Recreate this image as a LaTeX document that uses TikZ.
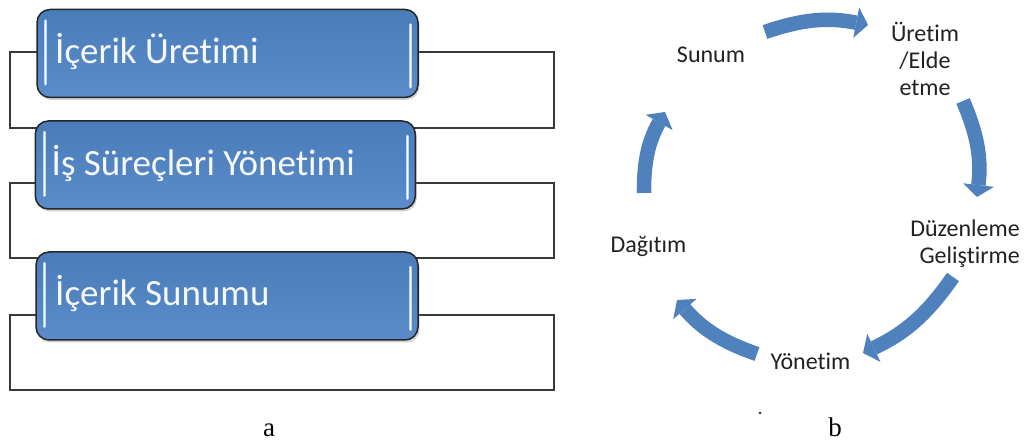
\documentclass[tikz,border=0pt]{standalone}
\usepackage{fontspec}
\setmainfont{Liberation Serif}
\newfontfamily\carlito[Ligatures=NoCommon]{Carlito}
\usetikzlibrary{arrows.meta,shadows,calc}
\definecolor{boxtop}{HTML}{4A7CBA}
\definecolor{boxbot}{HTML}{5B8CC9}
\definecolor{edgegray}{HTML}{262626}
\definecolor{framegray}{HTML}{3A3A3A}
\definecolor{glint}{HTML}{B5D8FA}
\definecolor{arrowblue}{HTML}{4F81BD}
\definecolor{labelgray}{HTML}{222222}
\definecolor{boxtext}{HTML}{F6F9FF}

% light vertical highlights inside a topic box
\newcommand\glints[1]{%
  \draw[glintbar] ($(#1.north west)+(9.5,-12)$) -- ($(#1.south west)+(9.5,14)$);
  \draw[glintcore] ($(#1.north west)+(9.5,-12)$) -- ($(#1.south west)+(9.5,14)$);
  \draw[glintbar] ($(#1.north east)+(-8.5,-16)$) -- ($(#1.south east)+(-8.5,11)$);
  \draw[glintcore] ($(#1.north east)+(-8.5,-16)$) -- ($(#1.south east)+(-8.5,11)$);
}

\begin{document}
\begin{tikzpicture}[x=1pt,y=1pt,
  frame/.style={draw=framegray, line width=1.3pt, fill=white},
  topicbox/.style={rounded corners=13pt, draw=edgegray, line width=1.5pt,
    top color=boxtop, bottom color=boxbot,
    drop shadow={opacity=0.35,shadow xshift=1.5pt,shadow yshift=-2.5pt},
    minimum height=88pt, inner sep=0pt},
  topictext/.style={font=\carlito\fontsize{37}{40}\selectfont, text=boxtext,
    anchor=base west, inner sep=0pt},
  glintbar/.style={line width=3pt, draw=glint, line cap=round},
  glintcore/.style={line width=0.9pt, draw=white, line cap=round},
  steplabel/.style={font=\carlito\fontsize{24}{27}\selectfont, text=labelgray, inner sep=0pt},
  cyclearrow/.style={draw=arrowblue, line width=14.5pt,
    -{Triangle[length=12pt,width=31pt,line width=0pt]}},
  caption/.style={font=\fontsize{27}{30}\selectfont, inner sep=0pt, anchor=base}
]
\fill[white] (0,0) rectangle (1026,443);
\useasboundingbox (0,0) rectangle (1026,443);

% (a) stacked topics with their frames
\draw[frame] (10,315) rectangle (554,391);
\draw[frame] (10,185) rectangle (554,260);
\draw[frame] (10,53) rectangle (554,128);

\node[topicbox, minimum width=381pt] (box1) at (227.5,389.5) {};
\node[topicbox, minimum width=380pt] (box2) at (225.3,278) {};
\node[topicbox, minimum width=382pt] (box3) at (227,147) {};
\glints{box1}
\glints{box2}
\glints{box3}

\node[topictext] (t1) at (55,379) {İçerik Üretimi};
\node[topictext] (t2) at (51.5,267.5) {İş Süreçleri Yönetimi};
\node[topictext] (t3) at (55,137) {İçerik Sunumu};

% (b) content life cycle
\node[steplabel, anchor=base] (sunum) at (711,380) {Sunum};
\node[steplabel, align=center] (uretim) at (925,384.5) {Üretim\\/Elde\\etme};
\node[steplabel, align=right, anchor=east] (duzen) at (1020,199) {Düzenleme\\Geliştirme};
\node[steplabel, anchor=base] (yonetim) at (810.5,73) {Yönetim};
\node[steplabel, anchor=base] (dagitim) at (648.5,190) {Dağıtım};

\coordinate (a1s) at (765,411); \coordinate (a1e) at (868,418);
\coordinate (a2s) at (963,342); \coordinate (a2e) at (977,246);
\coordinate (a3s) at (953,166); \coordinate (a3e) at (863,90);
\coordinate (a4s) at (757,89);  \coordinate (a4e) at (677,143);
\coordinate (a5s) at (644,250); \coordinate (a5e) at (665,331);

\draw[cyclearrow] (a1s) to[bend left=15] (a1e);
\draw[cyclearrow] (a2s) to[bend left=15] (a2e);
\draw[cyclearrow] (a3s) to[bend left=15] (a3e);
\draw[cyclearrow] (a4s) to[bend left=15] (a4e);
\draw[cyclearrow] (a5s) to[bend left=15] (a5e);

\fill[labelgray] (760,30) ellipse (1.6 and 1.1);

% captions
\node[caption] (capa) at (269,6) {a};
\node[caption] (capb) at (835,6) {b};
\end{tikzpicture}
\end{document}
